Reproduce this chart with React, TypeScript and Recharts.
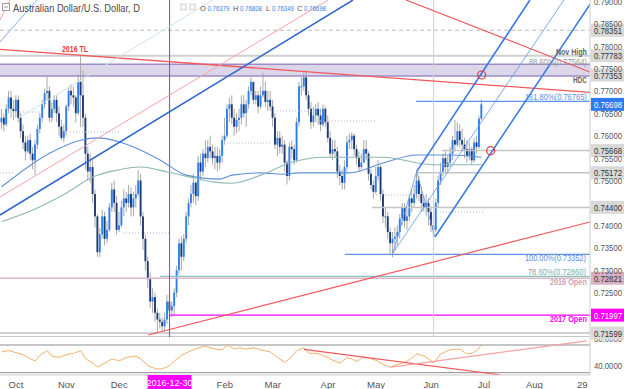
import React from 'react';
import { ComposedChart, Bar, Line, XAxis, YAxis, ReferenceLine, ReferenceArea, ReferenceDot } from 'recharts';

// ---------- scale domains (price pane on top, RSI pane below, same plot) ----------
const X_MIN = -6.67;
const X_MAX = 239.2;
const P_MIN = 0.706625;
const P_MAX = 0.79026;
const P_PANE_BOTTOM = 0.7151;
const P_SEPARATOR = 0.71521;
const R_MIN = 26.68;
const R_MAX = 568.16;
const R_PANE_TOP = 81.55;

// ---------- daily candles (pips x 1e4), bar index 0 = 2016-10-03 ----------
const FIRST_BAR = -6;
const FIRST_OPEN = 7630;
const closes = [
  7640, 7625, 7660, 7685, 7660, 7655, 7680, 7640, 7610, 7585,
  7565, 7590, 7560, 7545, 7580, 7615, 7640, 7670, 7695, 7700,
  7640, 7660, 7680, 7650, 7620, 7595, 7610, 7665, 7700, 7690,
  7685, 7650, 7720, 7690, 7640, 7560, 7520, 7530, 7470, 7420,
  7340, 7380, 7420, 7370, 7390, 7440, 7480, 7450, 7390, 7400,
  7440, 7460, 7450, 7470, 7440, 7460, 7470, 7500, 7420, 7370,
  7320, 7280, 7230, 7240, 7205, 7190, 7185, 7175, 7190, 7230,
  7210, 7220, 7250, 7300, 7360, 7330, 7370, 7420, 7450, 7470,
  7495, 7465, 7540, 7520, 7560, 7550, 7575, 7565, 7550, 7555,
  7540, 7555, 7590, 7600, 7660, 7670, 7640, 7620, 7635, 7640,
  7670, 7650, 7670, 7700, 7720, 7680, 7690, 7665, 7690, 7700,
  7675, 7680, 7665, 7640, 7580, 7595, 7575, 7580, 7540, 7510,
  7575, 7570, 7545, 7630, 7710, 7710, 7730, 7690, 7660, 7630,
  7645, 7660, 7645, 7625, 7660, 7630, 7595, 7560, 7570, 7565,
  7520, 7510, 7495, 7530, 7585, 7590, 7600, 7570, 7550, 7530,
  7540, 7570, 7560, 7515, 7490, 7475, 7510, 7530, 7470, 7420,
  7420, 7385, 7360, 7370, 7375, 7385, 7415, 7440, 7410, 7420,
  7460, 7450, 7470, 7500, 7470, 7450, 7440, 7450, 7430, 7400,
  7390, 7450, 7500, 7520, 7550, 7530, 7540, 7560, 7590, 7580,
  7610, 7590, 7580, 7570, 7555, 7570, 7545, 7585, 7575, 7638,
  7670,
];
const highs = [
  7660, 7650, 7670, 7700, 7700, 7680, 7690, 7690, 7650, 7625,
  7600, 7600, 7605, 7575, 7590, 7625, 7650, 7680, 7705, 7731,
  7710, 7675, 7690, 7690, 7665, 7635, 7625, 7670, 7710, 7715,
  7710, 7690, 7735, 7778, 7745, 7650, 7575, 7560, 7545, 7480,
  7425, 7395, 7435, 7430, 7410, 7450, 7495, 7500, 7465, 7430,
  7455, 7480, 7475, 7490, 7485, 7475, 7490, 7523, 7515, 7430,
  7380, 7330, 7295, 7260, 7250, 7215, 7205, 7195, 7205, 7245,
  7245, 7230, 7260, 7310, 7370, 7375, 7380, 7430, 7460, 7490,
  7515, 7500, 7555, 7560, 7570, 7590, 7590, 7600, 7580, 7575,
  7575, 7570, 7600, 7640, 7670, 7685, 7690, 7660, 7650, 7660,
  7690, 7690, 7680, 7710, 7730, 7720, 7700, 7700, 7710, 7740,
  7720, 7700, 7700, 7680, 7650, 7610, 7610, 7600, 7590, 7545,
  7585, 7590, 7580, 7640, 7720, 7730, 7740, 7746, 7700, 7675,
  7665, 7670, 7675, 7660, 7670, 7665, 7645, 7610, 7590, 7590,
  7575, 7535, 7525, 7545, 7600, 7605, 7608, 7605, 7580, 7565,
  7560, 7590, 7590, 7565, 7525, 7500, 7530, 7545, 7535, 7480,
  7440, 7430, 7395, 7385, 7395, 7400, 7425, 7450, 7450, 7440,
  7470, 7480, 7490, 7520, 7510, 7485, 7465, 7470, 7460, 7440,
  7420, 7460, 7510, 7540, 7560, 7565, 7555, 7575, 7600, 7635,
  7630, 7625, 7615, 7595, 7590, 7585, 7575, 7595, 7600, 7645,
  7681,
];
const lows = [
  7615, 7610, 7620, 7650, 7640, 7635, 7640, 7630, 7595, 7570,
  7545, 7560, 7545, 7525, 7512, 7570, 7605, 7630, 7660, 7680,
  7630, 7630, 7650, 7630, 7600, 7590, 7585, 7600, 7655, 7670,
  7665, 7630, 7645, 7620, 7620, 7525, 7500, 7495, 7450, 7395,
  7330, 7329, 7370, 7355, 7360, 7385, 7430, 7430, 7380, 7385,
  7395, 7420, 7430, 7440, 7420, 7420, 7440, 7465, 7400, 7345,
  7300, 7260, 7215, 7205, 7185, 7160, 7170, 7165, 7163, 7180,
  7195, 7195, 7200, 7240, 7290, 7300, 7320, 7360, 7400, 7440,
  7450, 7445, 7455, 7500, 7510, 7530, 7540, 7550, 7535, 7525,
  7520, 7525, 7540, 7580, 7595, 7630, 7625, 7600, 7605, 7610,
  7625, 7640, 7620, 7660, 7690, 7670, 7670, 7650, 7660, 7685,
  7665, 7655, 7655, 7620, 7570, 7555, 7560, 7560, 7520, 7491,
  7500, 7550, 7535, 7540, 7620, 7690, 7700, 7680, 7645, 7615,
  7620, 7630, 7625, 7610, 7620, 7620, 7585, 7550, 7545, 7550,
  7505, 7490, 7480, 7480, 7520, 7570, 7570, 7555, 7535, 7520,
  7525, 7540, 7545, 7500, 7480, 7460, 7470, 7500, 7455, 7405,
  7395, 7370, 7335, 7329, 7345, 7355, 7370, 7400, 7395, 7390,
  7410, 7430, 7440, 7460, 7455, 7430, 7430, 7420, 7400, 7385,
  7374, 7385, 7440, 7490, 7510, 7515, 7520, 7530, 7545, 7565,
  7575, 7575, 7565, 7550, 7540, 7545, 7535, 7540, 7560, 7570,
  7635,
];

// ---------- moving averages (bar index, pips) ----------
const maFast = [
  [-6, 7486], [14, 7561], [27, 7590], [34, 7595], [49, 7575], [60, 7546], [71, 7512],
  [85, 7503], [90, 7512], [102, 7517], [111, 7514], [118, 7517], [139, 7517],
  [153, 7539], [167, 7557], [181, 7557], [194, 7552],
];
const maSlow = [
  [-6, 7408], [7, 7434], [21, 7472], [32, 7508], [42, 7523], [52, 7530], [63, 7519],
  [74, 7506], [82, 7497], [90, 7494], [102, 7512], [114, 7539], [128, 7552],
  [139, 7552], [153, 7552], [174, 7535], [194, 7535],
];

// ---------- RSI (bar index, value) ----------
const rsiPoints = [
  [-6, 60], [-3, 62], [0, 59], [3, 56], [6, 50], [8, 47], [10, 55], [13, 62], [15, 54],
  [18, 52], [21, 56], [24, 58], [27, 62], [29, 50], [32, 44], [34, 38], [36, 42], [40, 50],
  [43, 47], [46, 52], [50, 54], [52, 50], [55, 40], [58, 36], [60, 35], [62, 37], [64, 40],
  [66, 47], [69, 55], [73, 62], [76, 66], [79, 68], [83, 64], [86, 63], [88, 70], [91, 64],
  [93, 66], [96, 64], [99, 66], [102, 63], [106, 60], [109, 52], [112, 45], [114, 50],
  [117, 62], [120, 66], [122, 58], [125, 58], [127, 56], [130, 52], [132, 48], [135, 44],
  [138, 52], [140, 50], [142, 46], [145, 53], [148, 50], [150, 48], [153, 42], [156, 38],
  [159, 42], [162, 45], [164, 49], [167, 57], [170, 54], [172, 50], [174, 44], [177, 57],
  [180, 62], [183, 64], [185, 64], [188, 57], [190, 58], [192, 62], [194, 70],
];

// ---------- axis ticks ----------
const monthTicks = [0, 21, 43, 64, 87, 107, 130, 150, 173, 195, 216, 236];
const monthLabels = ['Oct', 'Nov', 'Dec', '2016-12-30', 'Feb', 'Mar', 'Apr', 'May', 'Jun', 'Jul', 'Aug', '29'];
const priceTicks = [0.725, 0.73, 0.735, 0.74, 0.75, 0.755, 0.76, 0.765, 0.77, 0.775, 0.78, 0.785, 0.79];
const rsiTicks = [40, 80];
const rsiBands = [70, 30];

// ---------- drawings ----------
const levelLines = [
  { from: X_MIN, to: X_MAX, p: 0.78351, color: '#bdbdbd', w: 1, dash: '4 3' },
  { from: X_MIN, to: X_MAX, p: 0.77783, color: '#d0d0d0', w: 2, dash: undefined },
  { from: X_MIN, to: X_MAX, p: 0.77592, color: '#9d8cc6', w: 1.5, dash: undefined },
  { from: X_MIN, to: X_MAX, p: 0.77331, color: '#9d8cc6', w: 1.5, dash: undefined },
  { from: 166.7, to: X_MAX, p: 0.76765, color: '#5d93ea', w: 1.2, dash: undefined },
  { from: 177.5, to: X_MAX, p: 0.75668, color: '#c4c4c4', w: 1.5, dash: undefined },
  { from: 167, to: X_MAX, p: 0.75172, color: '#c4c4c4', w: 1.5, dash: undefined },
  { from: 148.3, to: X_MAX, p: 0.744, color: '#c4c4c4', w: 1.5, dash: undefined },
  { from: 137, to: X_MAX, p: 0.73352, color: '#5d93ea', w: 1.2, dash: undefined },
  { from: 60, to: X_MAX, p: 0.7286, color: '#8cc0bf', w: 1.2, dash: undefined },
  { from: X_MIN, to: X_MAX, p: 0.72821, color: '#dcb7c9', w: 1.5, dash: undefined },
  { from: 64, to: X_MAX, p: 0.71997, color: '#ff00ff', w: 1.2, dash: undefined },
  { from: X_MIN, to: X_MAX, p: 0.71599, color: '#d0d0d0', w: 2, dash: undefined },
  { from: X_MIN, to: X_MAX, p: P_SEPARATOR, color: '#c8c8c8', w: 1, dash: undefined },
];
const verticalLines = [
  { i: 64, color: '#ff00ff' },
  { i: 174, color: '#d4d4d4' },
];
const pivotDots = [
  [1.67, 10.8, 0.76528], [22.5, 43.3, 0.76082], [-6.67, -0.4, 0.75167], [44.6, 64.2, 0.73829],
  [87.9, 105.8, 0.75837], [108.75, 125, 0.7655], [126.7, 150.4, 0.76327], [148.75, 164.2, 0.74677],
  [176.7, 194.6, 0.74298],
];
const trendLines = [
  { a: [-6.67, 0.77927], b: [239.17, 0.76965], color: '#f0585d', w: 1.3 },
  { a: [162.5, 0.79026], b: [239.17, 0.7742], color: '#f0585d', w: 1.2 },
  { a: [-6.67, 0.74632], b: [130, 0.79026], color: '#f5a3a3', w: 1 },
  { a: [-6.67, 0.7858], b: [-2.5, 0.79026], color: '#f5a3a3', w: 1 },
  { a: [-6.67, 0.74231], b: [140.42, 0.79026], color: '#2f66d0', w: 1.5 },
  { a: [-6.67, 0.78089], b: [8.75, 0.79026], color: '#8fb0e8', w: 1 },
  { a: [1.67, 0.76417], b: [82.08, 0.79026], color: '#cfe3dc', w: 1 },
  { a: [166.96, 0.75197], b: [214.17, 0.79026], color: '#3a78e0', w: 1.6 },
  { a: [157.08, 0.73383], b: [228.33, 0.79026], color: '#5d94e8', w: 0.8 },
  { a: [174.58, 0.7374], b: [239.17, 0.78926], color: '#3a78e0', w: 1.6 },
  { a: [157.08, 0.73383], b: [166.96, 0.75197], color: '#5d94e8', w: 0.8 },
  { a: [166.96, 0.75197], b: [174.58, 0.7374], color: '#5d94e8', w: 0.8 },
  { a: [55, 0.71555], b: [239.17, 0.74075], color: '#f0585d', w: 1.2 },
];
const rsiLines = [
  { a: [120, 63.6], b: [201.7, 27.0], color: '#f0585d', w: 1.2 },
  { a: [156.3, 38], b: [237.9, 76], color: '#f5a3a3', w: 1.2 },
];
const textMarks = [
  { i: 24.58, p: 0.77933, text: '2016 TL', color: '#e8383d', bold: true, len: 26, anchor: 'middle' },
  { i: 237.9, p: 0.77873, text: 'Nov High', color: '#666666', bold: true, len: 31, anchor: 'end' },
  { i: 237.9, p: 0.7765, text: '88.60%(0.77564)', color: '#999999', bold: false, len: 58, anchor: 'end' },
  { i: 237.9, p: 0.77241, text: 'HDC', color: '#666666', bold: true, len: 14, anchor: 'end' },
  { i: 237.9, p: 0.76856, text: '161.80%(0.76765)', color: '#5b8ee6', bold: false, len: 62, anchor: 'end' },
  { i: 237.5, p: 0.73265, text: '100.00%(0.73352)', color: '#5b8ee6', bold: false, len: 61, anchor: 'end' },
  { i: 237.5, p: 0.72966, text: '78.60%(0.72860)', color: '#7aaeae', bold: false, len: 58, anchor: 'end' },
  { i: 237.9, p: 0.72743, text: '2016 Open', color: '#d4a0bc', bold: true, len: 37, anchor: 'end' },
  { i: 237.9, p: 0.71905, text: '2017 Open', color: '#ff00ff', bold: true, len: 37, anchor: 'end' },
];
const axisBadges = [
  { p: 0.78351, fill: '#d9d9d9', color: '#333333' },
  { p: 0.77783, fill: '#d9d9d9', color: '#333333' },
  { p: 0.77353, fill: '#d9d9d9', color: '#333333' },
  { p: 0.76698, fill: '#2f7af0', color: '#ffffff' },
  { p: 0.75668, fill: '#d9d9d9', color: '#333333' },
  { p: 0.75172, fill: '#d9d9d9', color: '#333333' },
  { p: 0.744, fill: '#d9d9d9', color: '#333333' },
  { p: 0.72821, fill: '#d8b0c5', color: '#333333' },
  { p: 0.71997, fill: '#ff00ff', color: '#ffffff' },
  { p: 0.71599, fill: '#d9d9d9', color: '#333333' },
];
const circles = [
  [194.04, 0.77353],
  [197.8, 0.75665],
];

// ---------- tables built from the arrays ----------
const rows: any[] = closes.map((c, k) => {
  const o = k === 0 ? FIRST_OPEN : closes[k - 1];
  const h = highs[k];
  const l = lows[k];
  return { i: FIRST_BAR + k, o: o / 1e4, h: h / 1e4, l: l / 1e4, c: c / 1e4, hl: [l / 1e4, h / 1e4] };
});
maFast.forEach(([i, v]) => {
  const r = rows.find((row) => row.i === i);
  if (r) r.maFast = v / 1e4;
});
maSlow.forEach(([i, v]) => {
  const r = rows.find((row) => row.i === i);
  if (r) r.maSlow = v / 1e4;
});
rsiPoints.forEach(([i, v]) => {
  const r = rows.find((row) => row.i === i);
  if (r) r.rsi = v;
});

const FONT = '"Liberation Sans", Arial, sans-serif';

const Candle = (props: any) => {
  const { x, y, width, height, payload } = props;
  if (!payload || x == null || y == null) return null;
  const top = height < 0 ? y + height : y;
  const span = Math.abs(height);
  const { o, h, l, c } = payload;
  const toY = (p: number) => top + ((h - p) / (h - l)) * span;
  const cx = x + width / 2;
  const bTop = toY(Math.max(o, c));
  const bBot = toY(Math.min(o, c));
  const up = c >= o;
  return (
    <g>
      <line x1={cx} x2={cx} y1={top} y2={top + span} stroke="#a8a8a8" strokeWidth={1} />
      <rect x={cx - 0.95} y={bTop} width={1.9} height={Math.max(1, bBot - bTop)} fill={up ? '#2f7ff0' : '#1d3c74'} />
    </g>
  );
};

const PriceTick = (props: any) => {
  const { x, y, payload } = props;
  return (
    <text x={x + 4} y={y + 3.5} fontSize={9.5} fill="#555555" textLength={28} lengthAdjust="spacingAndGlyphs" fontFamily={FONT}>
      {Number(payload.value).toFixed(5)}
    </text>
  );
};

const TimeTick = (props: any) => {
  const { x, y, payload } = props;
  const label = monthLabels[monthTicks.indexOf(payload.value)];
  if (label === '2016-12-30') {
    return (
      <g>
        <rect x={x - 22} y={y} width={44} height={14} fill="#ff00ff" />
        <text x={x} y={y + 11} textAnchor="middle" fontSize={9} fill="#ffffff" fontFamily={FONT}>{label}</text>
      </g>
    );
  }
  return (
    <text x={x} y={y + 13} textAnchor="middle" fontSize={9.5} fill="#555555" fontFamily={FONT}>{label}</text>
  );
};

const badgeShape = (b: any) => (props: any) => {
  const { cx, cy } = props;
  return (
    <g>
      <rect x={cx + 1} y={cy - 6.5} width={33} height={13} fill={b.fill} />
      <text x={cx + 4} y={cy + 3.5} fontSize={9.5} fill={b.color} textLength={28} lengthAdjust="spacingAndGlyphs" fontFamily={FONT}>
        {b.p.toFixed(5)}
      </text>
    </g>
  );
};

const rsiTickShape = (v: number) => (props: any) => {
  const { cx, cy } = props;
  return (
    <text x={cx + 4} y={cy + 3.5} fontSize={9.5} fill="#555555" textLength={28} lengthAdjust="spacingAndGlyphs" fontFamily={FONT}>
      {v.toFixed(4)}
    </text>
  );
};

const textShape = (t: any) => (props: any) => {
  const { cx, cy } = props;
  return (
    <text x={cx} y={cy + 3} textAnchor={t.anchor} fontSize={8.5} fontWeight={t.bold ? 'bold' : 'normal'} fill={t.color}
      textLength={t.len} lengthAdjust="spacingAndGlyphs" fontFamily={FONT}>
      {t.text}
    </text>
  );
};

export default function App() {
  return (
    <div style={{ position: 'absolute', left: 0, top: 0, width: 624, height: 389, background: '#ffffff', overflow: 'hidden', fontFamily: FONT }}>
      <ComposedChart width={624} height={389} data={rows} margin={{ top: 0, right: 0, left: 0, bottom: 0 }}>
        <XAxis type="number" dataKey="i" domain={[X_MIN, X_MAX]} allowDataOverflow ticks={monthTicks} interval={0}
          tick={(p: any) => <TimeTick {...p} />} tickLine={false} tickSize={0} tickMargin={0} height={14}
          axisLine={{ stroke: '#cccccc' }} />
        <YAxis yAxisId="p" orientation="right" width={34} domain={[P_MIN, P_MAX]} allowDataOverflow ticks={priceTicks} interval={0}
          tick={(p: any) => <PriceTick {...p} />} tickLine={false} tickSize={0} tickMargin={0} axisLine={{ stroke: '#cccccc' }} />
        <YAxis yAxisId="r" orientation="right" hide domain={[R_MIN, R_MAX]} allowDataOverflow />

        <ReferenceArea yAxisId="p" y1={0.77331} y2={0.77592} x1={X_MIN} x2={X_MAX} fill="#bfb4d9" fillOpacity={0.55} stroke="none" ifOverflow="hidden" />
        {pivotDots.map((d, k) => (
          <ReferenceLine key={'pd' + k} yAxisId="p" segment={[{ x: d[0], y: d[2] }, { x: d[1], y: d[2] }]} stroke="#b7b0e0"
            strokeDasharray="1 2" strokeWidth={1} ifOverflow="hidden" />
        ))}
        {levelLines.map((l, k) => (
          <ReferenceLine key={'lv' + k} yAxisId="p" segment={[{ x: l.from, y: l.p }, { x: l.to, y: l.p }]} stroke={l.color}
            strokeWidth={l.w} strokeDasharray={l.dash} ifOverflow="hidden" />
        ))}
        {verticalLines.map((v, k) => (
          <ReferenceLine key={'vl' + k} yAxisId="p" segment={[{ x: v.i, y: P_PANE_BOTTOM }, { x: v.i, y: P_MAX }]} stroke={v.color}
            strokeWidth={1} ifOverflow="hidden" />
        ))}
        {rsiBands.map((b, k) => (
          <ReferenceLine key={'rb' + k} yAxisId="r" segment={[{ x: X_MIN, y: b }, { x: X_MAX, y: b }]} stroke="#8c8c8c"
            strokeWidth={1} ifOverflow="hidden" />
        ))}

        <Line yAxisId="p" dataKey="maFast" type="monotone" stroke="#5c8fdc" strokeWidth={1.1} dot={false} connectNulls isAnimationActive={false} />
        <Line yAxisId="p" dataKey="maSlow" type="monotone" stroke="#8fbab2" strokeWidth={1.1} dot={false} connectNulls isAnimationActive={false} />
        <Bar yAxisId="p" dataKey="hl" shape={Candle} barSize={2} isAnimationActive={false} />
        <Line yAxisId="r" dataKey="rsi" type="linear" stroke="#f5b06a" strokeWidth={1} dot={false} connectNulls isAnimationActive={false} />

        {trendLines.map((t, k) => (
          <ReferenceLine key={'tl' + k} yAxisId="p" segment={[{ x: t.a[0], y: t.a[1] }, { x: t.b[0], y: t.b[1] }]} stroke={t.color}
            strokeWidth={t.w} ifOverflow="hidden" />
        ))}
        {rsiLines.map((t, k) => (
          <ReferenceLine key={'rl' + k} yAxisId="r" segment={[{ x: t.a[0], y: t.a[1] }, { x: t.b[0], y: t.b[1] }]} stroke={t.color}
            strokeWidth={t.w} ifOverflow="hidden" />
        ))}
        {circles.map((c, k) => (
          <ReferenceDot key={'c' + k} yAxisId="p" x={c[0]} y={c[1]} r={4} fill="none" stroke="#e0393e" strokeWidth={1.2} ifOverflow="visible" />
        ))}
        {textMarks.map((t, k) => (
          <ReferenceDot key={'t' + k} yAxisId="p" x={t.i} y={t.p} r={0} shape={textShape(t)} ifOverflow="visible" />
        ))}
        {rsiTicks.map((v, k) => (
          <ReferenceDot key={'rt' + k} yAxisId="r" x={X_MAX} y={v} r={0} shape={rsiTickShape(v)} ifOverflow="visible" />
        ))}
        {axisBadges.map((b, k) => (
          <ReferenceDot key={'b' + k} yAxisId="p" x={X_MAX} y={b.p} r={0} shape={badgeShape(b)} ifOverflow="visible" />
        ))}
      </ComposedChart>

      <svg width={624} height={18} style={{ position: 'absolute', left: 0, top: 0 }}>
        <rect x={2.5} y={3.5} width={7} height={7} fill="#ffffff" stroke="#9a9a9a" />
        <line x1={4} x2={8} y1={7} y2={7} stroke="#9a9a9a" />
        <text x={13} y={11.5} fontSize={10.5} fill="#4a4a4a" textLength={127} lengthAdjust="spacingAndGlyphs" fontFamily={FONT}>
          Australian Dollar/U.S. Dollar, D
        </text>
        <rect x={180} y={3.5} width={7} height={7} fill="#e0e0e0" />
        <circle cx={183.5} cy={7} r={2} fill="#ffffff" />
        <rect x={189} y={3.5} width={7} height={7} fill="#e0e0e0" />
        <circle cx={192.5} cy={7} r={2} fill="#ffffff" />
        <text x={200} y={10.5} fontSize={7.5} fill="#555555" fontFamily={FONT}>O</text>
        <text x={207.5} y={10.5} fontSize={7.5} fill="#3c7ee6" textLength={22} lengthAdjust="spacingAndGlyphs" fontFamily={FONT}>0.76379</text>
        <text x={233} y={10.5} fontSize={7.5} fill="#555555" fontFamily={FONT}>H</text>
        <text x={240} y={10.5} fontSize={7.5} fill="#3c7ee6" textLength={22} lengthAdjust="spacingAndGlyphs" fontFamily={FONT}>0.76808</text>
        <text x={266} y={10.5} fontSize={7.5} fill="#555555" fontFamily={FONT}>L</text>
        <text x={272} y={10.5} fontSize={7.5} fill="#3c7ee6" textLength={22} lengthAdjust="spacingAndGlyphs" fontFamily={FONT}>0.76349</text>
        <text x={297} y={10.5} fontSize={7.5} fill="#555555" fontFamily={FONT}>C</text>
        <text x={304} y={10.5} fontSize={7.5} fill="#3c7ee6" textLength={22} lengthAdjust="spacingAndGlyphs" fontFamily={FONT}>0.76698</text>
      </svg>
    </div>
  );
}
